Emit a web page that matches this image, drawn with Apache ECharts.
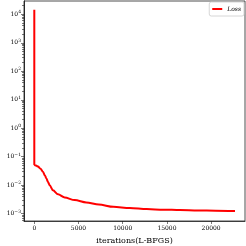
<!DOCTYPE html>
<html><head><meta charset="utf-8">
<script src="https://cdn.jsdelivr.net/npm/echarts@6/dist/echarts.min.js"></script>
<style>html,body{margin:0;padding:0;background:#fff}#c{width:246px;height:246px}</style>
</head><body><div id="c"></div>
<script>
var iterations = [0, 0, 60, 200, 420, 700, 980, 1200, 1360, 1550, 1740, 2115, 2680, 3440, 4570, 5880, 7300, 8940, 10800, 12720, 14600, 16480, 18500, 20500, 22700];
var loss = [14500, 0.052, 0.051, 0.049, 0.045, 0.038, 0.030, 0.022, 0.0175, 0.013, 0.010, 0.0066, 0.0048, 0.0037, 0.0030, 0.0025, 0.0021, 0.00174, 0.00158, 0.00145, 0.00139, 0.00134, 0.0013, 0.00127, 0.00124];
var xTicks = [0, 5000, 10000, 15000, 20000];
var yTicks = [1e-3, 1e-2, 1e-1, 1, 10, 100, 1000, 10000];
var yMinor = [];
for (var e = -4; e <= 4; e++) for (var m = 2; m <= 9; m++) { var v = m * Math.pow(10, e); if (v > 0.00055 && v < 29000) yMinor.push(v); }
var font = '"DejaVu Serif", "Liberation Serif", serif';
var axisColor = '#222';
function supLabel(v) {
  var ex = Math.round(Math.log10(v));
  return '{b|10}{s|' + (ex < 0 ? '\u2212' + (-ex) : ex) + '}';
}
var chart = echarts.init(document.getElementById('c'), null, {renderer: 'canvas'});
chart.setOption({
  animation: false,
  grid: {left: 24, right: 1, top: 1, bottom: 25, show: true, borderColor: axisColor, borderWidth: 0.8,
    containLabel: false, outerBoundsMode: 'none'},
  legend: {
    right: 2, top: 2, itemWidth: 10, itemHeight: 2, itemGap: 2,
    padding: [4, 3, 4, 3], borderColor: '#ccc', borderWidth: 0.8, borderRadius: 2,
    textStyle: {fontFamily: font, fontSize: 6, fontStyle: 'italic', color: '#000'},
    data: [{name: 'Loss', icon: 'rect'}]
  },
  xAxis: {
    type: 'value', min: -1165, max: 23830,
    name: 'iterations(L-BFGS)', nameLocation: 'middle', nameGap: 16,
    nameTextStyle: {fontFamily: font, fontSize: 8, color: '#000'},
    axisLine: {show: true, onZero: false, lineStyle: {color: axisColor, width: 0.8}},
    axisTick: {show: true, inside: false, length: 3, customValues: xTicks, lineStyle: {color: axisColor, width: 0.6}},
    axisLabel: {customValues: xTicks, fontFamily: font, fontSize: 6, color: '#000', margin: 4,
      formatter: function (v) { return String(Math.round(v)); }},
    splitLine: {show: false}
  },
  yAxis: [{
    type: 'log', min: 0.000555, max: 29300, logBase: 10,
    name: 'loss', nameLocation: 'middle', nameGap: 16, nameRotate: 90,
    nameTextStyle: {fontFamily: font, fontSize: 7, color: '#000'},
    axisLine: {show: true, onZero: false, lineStyle: {color: axisColor, width: 0.8}},
    axisTick: {show: true, inside: false, length: 3, customValues: yTicks, lineStyle: {color: axisColor, width: 0.6}},
    axisLabel: {
      customValues: yTicks, margin: 3, formatter: supLabel,
      rich: {
        b: {fontFamily: font, fontSize: 6, color: '#000'},
        s: {fontFamily: font, fontSize: 4.5, color: '#000', padding: [0, 0, 4, 0]}
      }
    },
    splitLine: {show: false}
  }, {
    type: 'log', min: 0.000555, max: 29300, logBase: 10, position: 'left', offset: 0,
    axisLine: {show: true, onZero: false, lineStyle: {color: axisColor, width: 0.8}},
    axisTick: {show: true, inside: false, length: 2, customValues: yMinor, lineStyle: {color: axisColor, width: 0.6}},
    axisLabel: {show: false},
    splitLine: {show: false}
  }],
  series: [{
    name: 'Loss', type: 'line', showSymbol: false, smooth: 0.3, smoothMonotone: 'x',
    lineStyle: {color: '#ff0000', width: 2}, itemStyle: {color: '#ff0000'},
    data: iterations.map(function (x, i) { return [x, loss[i]]; })
  }]
});
</script></body></html>
